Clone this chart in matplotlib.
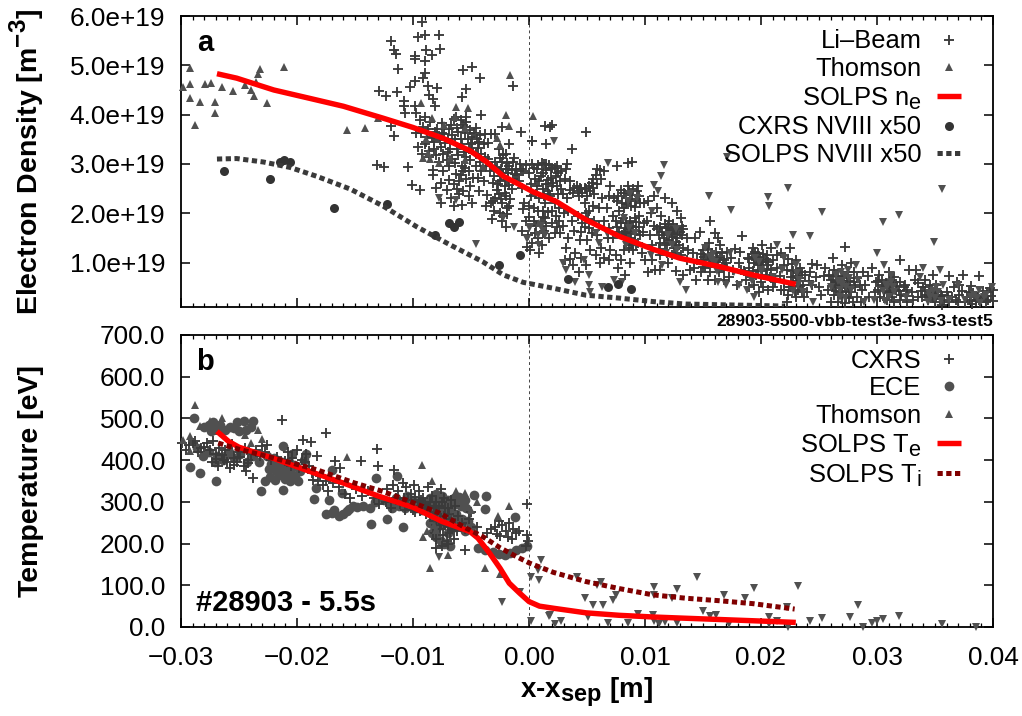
# -*- coding: utf-8 -*-
import numpy as np
import matplotlib
matplotlib.use('Agg')
import matplotlib.pyplot as plt
import matplotlib._mathtext as mt

plt.rcParams['font.family'] = ['Liberation Sans', 'DejaVu Sans']
plt.rcParams['mathtext.fontset'] = 'custom'
plt.rcParams['mathtext.rm'] = 'Liberation Sans'
plt.rcParams['mathtext.bf'] = 'Liberation Sans:bold'
plt.rcParams['axes.unicode_minus'] = False
# gnuplot subscripts are bigger than the matplotlib ones
mt.SHRINK_FACTOR = 0.85

# all x values in mm from the separatrix, density in 1e19 m^-3, T in eV

# panel a : Li-beam
li_beam = [
    (-9.2,5.88),(-9,5.62),(-9.6,5.57),(-7.8,5.62),(-11.9,5.49),(-11.6,5.32),(-11.5,5.22),(-8.9,5.32),(-7.7,5.33),
    (-9.8,5.18),(-9.8,5.13),(-9,5.08),(-8.4,5.2),(-11.3,4.92),(-9,4.84),(-5.7,4.9),(-4.9,4.96),(-4.2,4.74),
    (-9.1,4.74),(-9.8,4.68),(-10.3,4.56),(-8.7,4.59),(-7.9,4.55),(-5.4,4.51),(-5.8,4.35),(-12.9,4.47),(-12.3,4.38),
    (-11.4,4.45),(-8.6,4.4),(-8.3,4.32),(-10.8,4.28),(-10.8,4.17),(-9.8,4.17),(-8.1,4.17),(-10.7,4.03),(-9.7,4.03),
    (-9,3.96),(-4.1,4),(-7.5,3.83),(-9.7,3.63),(-11.6,3.57),(-11.9,3.76),(-0.7,3.64),(0.3,3.47),(-1.4,4.59),(1.4,3.77),
    (-13.1,2.97),(-12.5,2.94),(-10.4,2.93),(-10.1,2.58),(-9.4,2.48),(-8.3,2.88),(-8.3,2.77),(-6.7,2.31),(-5.8,2.17),
    (-3.2,1.88),(-3.1,2.24),(-9.4,3.9),(-9.1,3.75),(-8.8,3.55),(-8.5,3.85),(-8.2,3.45),(-7.9,3.7),(-7.6,3.35),
    (-7.3,3.6),(-7,3.25),(-6.7,3.8),(-6.4,3.5),(-6.1,3.65),(-5.8,3.4),(-5.5,3.75),(-5.2,3.3),(-4.9,3.55),(-4.6,3.2),
    (-4.3,3.45),(-9.6,3.35),(-9.2,3.2),(-8.9,3.45),(-8.6,3.15),(-8.2,3.3),(-7.8,3.05),(-7.4,3.2),(-7,3.5),(-6.6,3.1),
    (-6.2,3.3),(-5.8,2.95),(-5.4,3.15),(-5,3.4),(-4.6,2.95),(-4.2,3.05),(-6.3,2.8),(-6,2.65),(-5.7,2.85),(-5.4,2.7),
    (-5.1,2.55),(-5.7,2.45),(-5.2,2.35),(-6.2,2.5),(-5.9,3.9),(-5.4,3.95),(-6.3,3.95),(-3.8,3.15),(-3.3,3.6),(-2.9,3.6),
    (-2.6,3.3),(-2.3,3.75),(-2,3.2),(-1.7,3.4),(-3.5,3.1),(-3.2,2.95),(-2.9,3.05),(-2.6,2.85),(-2.3,3.05),(-2,2.9),
    (-1.7,2.95),(-1.4,3.05),(-1.1,2.9),(-0.8,3.0),(-0.5,2.85),(-3,2.75),(-2.7,2.6),(-2.4,2.75),(-2.1,2.55),(-1.8,2.7),
    (-1.5,2.5),(-1.2,2.8),(-0.9,2.65),(-2.9,2.3),(-2.6,2.4),(-2.3,2.2),(-2,2.35),(-1.7,2.15),(-2.5,2.0),(-2.2,1.95),
    (-1.9,2.1),(-2.3,1.85),(-0.4,2.2),(0,2.15),(0.4,2.1),(0.7,2.9),(1,2.75),(1.3,3.0),(1.5,2.6),(1.7,2.4),(1.9,2.9),
    (0.5,1.6),(0.8,1.5),(1.1,1.35),(1.3,1.65),(1.5,1.75),(-0.1,1.55),(0.3,1.4),(0.9,1.2),(1.4,1.9),(1.7,1.5),(1.2,2.05),
    (1,1.8),(0.6,1.75),(0.2,2.6),(0.6,2.4),(0.9,2.3),(1.4,2.2),(1.2,2.5),
    (1.5,3.4),(1.8,3.75),(2,3.8),(0.3,3.47),(4.9,3.65),(3.7,3.3),(3.3,3),(1.5,3.0),(2,2.92),(2.4,2.95),(2.8,2.85),
    (3.2,2.9),(2.3,2.75),(2.7,2.65),(3.1,2.7),(3.5,2.65),(2,2.55),(1.6,2.45),(2.5,2.4),(2.9,2.4),(3.3,2.3),(2.2,2.2),
    (2.6,2.1),(3,2.0),(2.3,1.95),(2,1.8),(2.6,1.85),(2.2,1.6),(2.9,1.75),(2.7,1.6),(1.2,1.6),
    (4.1,2.55),(4.5,2.5),(4.9,2.5),(5.3,2.45),(4.3,2.35),(5,2.35),(5.6,2.4),(5.9,2.9),(6.2,2.7),(6.5,2.85),(5.5,2.7),
    (7.6,2.95),(8.5,3.02),(8.9,3.05),(7,2.55),(6.9,2.35),(6.3,2.3),(6,2.1),(5.5,2.15),(4.9,2.0),(5.6,1.85),(5.2,1.7),
    (4.6,1.8),(5,1.45),(4.4,1.45),(5.9,1.55),(6.2,1.3),(6.8,1.5),(7.2,1.5),(6.5,1.1),(6.1,1.0),(5.3,1.25),(4.5,1.1),
    (4.9,0.95),(4,1.2),(7.5,1.15),(7.9,1.05),(7.7,0.9),(8.2,1.25),(8.7,1.0),(8.3,0.75),(8.9,1.35),
    (7.6,2.25),(8,2.2),(8.4,2.3),(8.8,2.15),(9.2,2.25),(9.5,2.35),(9.9,2.2),(10.3,2.25),(7.8,2.05),(8.2,2.1),
    (8.6,2.45),(9,2.5),(9.4,2.55),(7.5,1.85),(7.9,1.8),(8.3,1.7),(8.7,1.85),(9.1,1.9),(9.5,1.95),(9.9,1.8),(10.2,1.85),
    (8,1.55),(8.4,1.6),(8.8,1.5),(9.2,1.65),(9.6,1.55),(8.6,1.3),(9,1.25),(9.4,1.4),(9.7,1.2),(10,1.05),(10.6,1.05),
    (10.9,0.85),(11.3,0.85),(10.3,0.8),(12.7,0.82),(13.3,0.75),(12,1.0),(11.3,1.15),
    (11.7,2.3),(12.3,2.2),(12.8,2.05),(13.1,1.9),(13.2,1.75),(11.8,1.7),(12.1,1.85),(11.2,1.55),(11.6,1.5),(12,1.55),
    (12.4,1.6),(12.8,1.5),(13.2,1.55),(13.6,1.5),(11.3,1.4),(11.7,1.35),(12.1,1.45),(12.5,1.3),(12.9,1.35),(13.3,1.3),
    (11.9,1.2),(12.3,1.15),(12.7,1.2),(13.1,1.15),(13.7,1.25),(14.1,1.2),(15.6,1.85),(14.7,1.63),(16,1.6),(16.3,1.5),
    (15.5,1.4),(15,1.25),(16.5,1.35),(15,1.05),(15.4,1.15),(15.8,1.0),(16.2,1.1),(16.6,1.2),(17,1.0),(17.4,1.1),(14.8,0.8),
    (15.2,0.9),(15.6,0.8),(16,0.65),(16.4,0.8),(16.8,0.85),(17.2,0.7),(17.6,0.85),(15.4,0.65),(16.8,0.65),
    (18.4,1.54),(18.9,1.1),(19.3,1.3),(19.7,1.2),(20.1,1.35),(20.5,1.15),(20.9,1.3),(19,0.9),(19.4,1.0),(19.8,0.95),
    (20.2,1.05),(20.6,0.95),(21,1.05),(21.4,0.9),(18.7,0.65),(19.2,0.7),(19.6,0.75),(20,0.6),(20.4,0.75),(20.8,0.7),
    (21.2,0.6),(19,0.5),(19.4,0.55),(19.8,0.4),(20.2,0.5),(20.6,0.45),(21,0.5),(21.7,1.2),(22,0.95),(22.5,1.3),(23,1.05),
    (22.2,0.85),(22.6,0.7),(23,0.85),(23.4,0.9),(23.8,0.75),(24.2,0.8),(22,0.6),(22.4,0.5),(22.8,0.6),(23.2,0.45),
    (23.6,0.55),(24,0.4),(24.4,0.55),(24.7,0.7),(22.3,0.35),(23,0.3),(22.2,0.2),(23.7,0.3),
    (26.2,1.1),(27.2,1.32),(27.8,1.0),(26.3,0.85),(27,0.95),(27.5,0.8),(28,0.8),(26,0.65),(26.5,0.6),(27,0.7),(27.5,0.55),
    (28,0.6),(28.5,0.55),(25.8,0.45),(26.3,0.35),(26.8,0.4),(27.3,0.3),(27.8,0.4),(28.3,0.3),(28.7,0.45),(26,0.2),(26.6,0.2),
    (27.2,0.18),(27.9,0.2),(28.6,0.2),(29.3,0.3),
    (30.2,0.75),(31,0.8),(32,1.05),(32.8,0.85),(30.4,0.65),(31,0.6),(31.5,0.7),(32,0.6),(32.4,0.55),(30.1,0.45),(30.6,0.5),
    (31.1,0.4),(31.6,0.45),(32.1,0.35),(32.6,0.45),(33,0.4),(30.3,0.3),(30.9,0.25),(31.5,0.2),(32,0.25),(32.6,0.2),(33.1,0.25),
    (34.1,0.65),(34.8,0.75),(35.1,0.55),(36.2,0.72),(34,0.5),(34.5,0.45),(35,0.4),(35.5,0.35),(36,0.4),(36.5,0.3),(33.9,0.3),
    (34.4,0.25),(35,0.2),(35.6,0.15),(36.2,0.2),(36.8,0.25),(37.1,0.35),(38.1,0.52),(38.8,0.72),(39.1,0.42),(38.4,0.3),
    (37.6,0.2),(38.2,0.17),(38.8,0.25),(39.4,0.2),(39.8,0.32),(40,0.45),(37.9,0.4),(39.5,0.4),(40,0.22),
]

# second pass over the dense parts of the Li-beam cloud
li_beam_dense = [
    (-9.3,3.62),(-9,3.4),(-8.7,3.7),(-8.6,3.27),(-8.4,3.52),(-8.1,3.65),(-8,3.18),(-7.7,3.48),(-7.5,3.62),(-7.2,3.42),
    (-7.1,3.08),(-6.9,3.7),(-6.8,3.3),(-6.6,3.58),(-6.5,3.92),(-6.2,3.72),(-6.1,3.18),(-5.9,3.5),(-5.9,2.78),(-5.7,3.78),
    (-5.6,3.25),(-5.5,3.62),(-5.4,3.85),(-5.3,3.5),(-5.1,3.68),(-5.1,3.08),(-4.9,3.42),(-4.8,2.72),(-4.7,3.62),(-4.5,3.5),
    (-4.4,3.32),(-4.2,3.58),(-4.1,3.2),(-3.9,3.4),(-6.5,2.6),(-6,2.4),(-5.5,2.92),(-5.2,2.85),(-6.4,3.02),(-6.9,2.95),
    (-3.4,2.85),(-3.1,2.62),(-2.8,2.92),(-2.8,2.48),(-2.5,3.12),(-2.5,2.65),(-2.4,2.9),(-2.2,3.18),(-2.2,2.82),(-2.1,2.42),
    (-2,2.68),(-1.9,3.02),(-1.8,2.82),(-1.7,2.58),(-1.6,2.28),(-1.5,2.88),(-1.4,2.7),(-1.3,3.12),(-1,2.78),(-0.7,2.9),
    (-2.4,2.28),(-1.9,1.98),(-2,1.72),(-3,2.05),(-0.6,2.52),(-0.3,2.98),(0,2.82),(0.2,2.35),(0.3,3),(0.5,2.7),(0.4,2.92),
    (0.7,2.55),(0.8,2.98),(0.9,2.65),(1.1,3.02),(1.2,2.82),(1.3,2.35),(1.5,2.88),(1.6,2.68),(1.7,2.98),(1.8,2.35),
    (1.9,2.72),(2.1,2.62),(2.2,2.92),(2.4,2.55),(2.5,2.82),(2.8,2.5),(0.8,2.05),(1.2,1.92),(1.6,2.02),(2,2.05),(2.4,1.72),
    (3.5,2.48),(3.8,2.42),(3.9,2.52),(4.2,2.45),(4.4,2.52),(4.6,2.42),(4.8,2.52),(5.2,2.55),(5.4,2.62),(5.5,2.52),(5.8,2.78),
    (5.9,2.6),(6.1,2.88),(4.8,2.2),(5.2,2.05),(4.2,1.95),(4.5,1.62),(5.1,1.88),(4.8,1.72),(3.9,1.65),(5.4,1.6),(6,1.75),
    (7.3,2.3),(7.7,2.35),(7.9,2.48),(8.2,2.42),(8.4,2.18),(8.5,2.55),(8.7,2.28),(8.9,2.38),(9.1,2.12),(9.3,2.45),(9.6,2.2),
    (7.6,1.72),(7.8,1.62),(8.1,1.9),(8.2,1.58),(8.4,1.8),(8.5,1.68),(8.7,1.62),(8.8,1.75),(9,1.72),(9.1,1.58),(9.2,1.82),
    (9.5,1.72),(9.8,1.62),(8.5,1.45),(8.8,1.38),(9.2,1.35),
    (11,1.68),(11.3,1.72),(11.5,1.62),(11.7,1.78),(11.9,1.6),(12,1.72),(12.1,1.62),(12.2,1.7),(12.3,1.52),(12.4,1.78),(12.5,1.66),
    (12.6,1.58),(12.8,1.7),(13,1.62),(13.3,1.68),(11.2,1.28),(11.9,1.4),(12.3,1.38),(12.7,1.42),
    (14.8,1.18),(15.1,1.12),(15.4,1.28),(15.6,1.08),(15.8,1.2),(15.9,1.12),(16,1.02),(16.1,1.22),(16.3,1.05),(16.5,1.1),(16.8,1.05),
    (17.1,1.22),(15,0.92),(15.5,0.98),(16.2,0.92),(16.7,0.95),
    (19,1.08),(19.2,1.18),(19.4,1.12),(19.5,1.22),(19.6,1.05),(19.7,0.98),(19.9,1.12),(20,1.02),(20.2,1.18),(20.4,1.08),(20.6,1.02),
    (19.3,0.82),(19.7,0.85),(20.1,0.82),(20.5,0.88),(18.5,0.82),(20.9,0.85),
    (22.3,1.08),(22.7,0.98),(22.8,0.82),(23,0.72),(23.1,0.62),(23.2,0.78),(23.3,0.68),(23.4,0.52),(23.5,0.8),(22.6,0.5),(22.9,0.42),
    (23.5,0.4),(24.1,0.62),(24.4,0.98),(22,0.45),
    (26.2,0.72),(26.4,0.55),(26.6,0.72),(26.7,0.5),(26.8,0.65),(26.9,0.58),(27,0.48),(27.1,0.62),(27.2,0.55),(27.3,0.42),(27.4,0.68),
    (27.6,0.48),(27.7,0.62),(26.5,0.42),(26.2,0.55),(28.1,0.5),(28.3,0.68),(25.9,0.75),(27,0.3),(27.6,0.28),
    (30.1,0.62),(30.4,0.55),(30.6,0.42),(30.8,0.58),(30.9,0.48),(31,0.38),(31.2,0.52),(31.3,0.3),(31.4,0.58),(31.7,0.52),(31.9,0.42),
    (32.3,0.5),(32.5,0.32),(30.6,0.28),(31.3,0.65),
    (34.1,0.42),(34.3,0.35),(34.5,0.3),(34.7,0.42),(34.8,0.28),(34.9,0.36),(35.1,0.3),(35.2,0.42),(35.4,0.26),(35.6,0.32),(35.8,0.25),
    (36.1,0.32),(33.8,0.42),(33.5,0.58),(34.6,0.55),
    (38,0.25),(38.3,0.38),(38.5,0.22),(38.7,0.3),(38.9,0.2),(39.1,0.28),(39.3,0.32),(39.6,0.25),(37.8,0.3),(37.3,0.42),(39.7,0.48),
]

# third pass, the gaps between the clumps
li_beam_fill = [
    (-4.6,3.72),(-4.4,2.72),(-4.1,2.85),(-3.9,2.65),(-3.8,3.6),(-3.7,2.95),(-3.6,2.38),(-3.5,3.42),(-3.3,2.2),(-3.7,2.15),(-4.3,2.45),
    (-7.6,2.62),(-7.1,2.48),(-6.9,2.68),(-7.4,2.85),(-8,2.52),(-7.6,2.2),(-6.5,2.15),(-4.9,2.2),
    (-0.3,1.85),(-0.5,2.08),(0,1.92),(0.4,1.85),(-0.6,1.65),(0.1,1.25),(-0.2,1.32),
    (3.4,2.05),(3.7,1.85),(3.4,1.5),(3.2,1.3),(3.5,1.08),(3.8,0.95),(4.3,0.8),(3.1,1.05),(5.8,1.15),(6.5,1.85),(6.9,1.7),(7,1.25),
    (7.2,1.95),(6.7,2.1),(6.9,1.05),(10.4,1.55),(10.6,1.35),(10.5,2.0),(10.8,2.35),(11,2.1),(10.8,1.75),(11.4,1.95),(13.6,1.05),(13.9,0.85),
    (14.3,1.5),(14.5,1.05),(14.2,0.9),(14.4,0.65),(17.8,1.28),(18.1,1.0),(18.3,0.85),(18.2,1.22),(17.9,0.55),(21.6,0.72),(21.7,0.45),(21.4,1.15),
    (24.8,0.95),(25,0.5),(25.2,0.35),(25.4,0.72),(25.5,0.9),(28.8,0.8),(29,0.55),(29.2,0.72),(29.6,0.9),(29.8,0.4),(29.9,0.6),
    (33.3,0.65),(33.5,0.3),(33.4,0.85),(36.9,0.6),(37.1,0.55),(37.4,0.75),(37,0.2),(36.6,0.5),
]

# panel a : Thomson inside (up triangles)
ne_ts_up = [
    (-29.8,4.56),(-29.2,4.95),(-29.2,4.62),(-29.2,4.34),(-28.8,3.8),(-28.4,4.25),(-27.9,4.62),(-27.4,4.65),(-27.1,4.26),
    (-27.1,4.04),(-26.5,4.57),(-25.5,4.47),(-24.5,4.6),(-24,4.5),(-23.7,4.37),(-23.5,4.67),(-23.4,4.83),(-23.2,4.93),
    (-22.6,4.24),(-21.1,4.96),(-15.7,3.69),(-14.1,3.73),(-13,3.93),(-9.1,3.12),(-8.7,3.22),(-9.3,4.23),(-8.4,3.93),(-7.3,3.8),
    (-7.8,3.02),(-6.8,3.12),(-6.3,4.15),(-6.4,3.96),(-5.3,4.13),(-5.5,3.73),(-5.5,3.08),(-4,2.95),(-2.8,3.52),(-2.5,3.38),
    (-2,4.0),(-1.7,3.77),(-1.6,4.81),(0.35,3.98),(0.9,1.8),(-8.9,3.5),(-8.5,3.1),
]

# panel a : Thomson outside (down triangles)
ne_ts_down = [
    (-7.8,2.31),(-6.3,2.27),(-2.2,1.9),(-1.3,1.73),(0.1,1.73),(-4.6,1.37),(2.15,3.46),(6.8,3.02),(11.6,2.97),(11.4,2.75),
    (10.8,2.58),(15.5,2.36),(17.4,2.07),(20.6,2.34),(20.7,2.14),(22.3,2.51),(25.3,2.02),(30.5,1.83),(31.9,1.97),(35.6,2.5),
    (34.9,1.41),(22.8,1.56),(24.2,1.54),(21.4,1.36),(17.1,3.14),(0,1.72),(-0.2,1.47),(1,1.75),(1.2,1.65),(2.9,1.0),(3.2,0.85),
    (4,0.6),(5.2,0.55),(5.3,0.4),(6.3,0.5),(7.3,0.65),(8,0.6),(4.7,1.05),(5.2,0.75),(6,1.4),(5.8,1.6),(6.7,1.6),(8.4,1.35),
    (9.1,1.6),(10.5,1.15),(11.5,0.95),(12.8,1.25),(13,0.6),(13.5,0.45),(9.3,2.3),(10.6,2.05),(11.1,2.45),(8.7,2.4),
    (15.2,1.3),(15.8,1.05),(16.5,0.9),(17.3,1.2),(17.7,0.8),(18.1,0.55),(17,0.55),(16.3,0.6),(18.8,0.45),(19.4,0.3),
    (20,0.85),(21,0.7),(22,1.1),(21.8,0.85),(23.3,0.65),(23.6,0.4),(24.3,0.55),(24.5,0.2),(26,0.5),(26.5,0.75),(27,0.55),
    (27.5,0.85),(27.8,0.45),(28.2,0.95),(28.4,0.65),(26.8,0.3),(30,1.2),(30.6,0.95),(30.8,0.55),(31.2,0.75),(31.5,0.4),(29.7,0.25),
    (34,0.9),(35.4,0.85),(35.3,0.4),(35.7,0.55),(34.6,0.3),(36.2,0.25),(37,0.55),(38.1,0.3),(38.8,0.45),(39.4,0.35),(37.6,0.25),
    (39.9,0.5),(33.7,0.7),(28.9,0.2),(32.5,0.3),
    (15.6,1.12),(15.9,1.18),(16,1.02),(16.2,0.82),(19.5,1.1),(19.8,1.02),(20,0.82),(19.2,0.62),(23,0.95),(23.1,0.78),(23.2,0.55),(22.8,0.42),
    (26.6,0.62),(26.9,0.8),(27,0.62),(27.2,0.72),(27.3,0.5),(27.6,0.68),(26.8,0.45),(27.2,0.28),(30.5,0.42),(30.9,0.5),(31,0.3),(31.2,0.6),
    (30.7,0.22),(31.4,0.5),(34.5,0.38),(34.8,0.42),(35,0.28),(35.1,0.5),(34.4,0.2),(35.5,0.22),(38.4,0.35),(38.6,0.28),(38.9,0.18),(39.2,0.3),
    (8.2,1.9),(8.5,2.25),(8.6,1.7),(9.1,1.4),(12,1.55),(12.3,1.35),(12.7,1.68),(11.8,1.2),(1.4,1.55),(0.8,1.55),(0.9,1.35),
]

# panel a : CXRS NVIII x50
cxrs_n = [
    (-26.3,2.85),(-22.3,2.7),(-21.5,3.03),(-21.1,3.08),(-20.6,3.04),(-16.8,2.1),(-12.2,2.19),(-8.1,1.56),(-6.9,1.8),
    (-6.5,1.73),(-6,1.83),(-2.6,0.95),(-0.8,1.16),(3.4,0.66),(6.8,0.5),(7.7,0.56),(8.8,0.46),
]

# panel a : SOLPS curves
solps_ne = [
    (-26.9,4.83),(-25.2,4.74),(-22,4.5),(-18.9,4.33),(-16,4.17),(-12.6,3.93),(-10,3.74),(-7.4,3.52),(-5.1,3.27),(-3.7,3.05),
    (-2.2,2.75),(-0.8,2.58),(0.4,2.43),(2.35,2.24),(4.9,1.87),(7.8,1.53),(10.7,1.27),(13,1.09),(16.4,0.92),(19.3,0.75),(23,0.56),
]
solps_n8 = [
    (-26.9,3.1),(-25.2,3.11),(-22.9,3.04),(-20.6,2.93),(-18.3,2.75),(-15.4,2.49),(-12.6,2.15),(-9.7,1.73),(-6.8,1.36),(-4,1.02),
    (-2.2,0.75),(-0.5,0.6),(2.1,0.48),(4.9,0.34),(7.8,0.28),(10.7,0.21),(13.5,0.16),(17.8,0.14),(22,0.12),
]

# panel b : CXRS
cxrs_t = [
    (-21.3,497),(-17.5,465),(-13.1,426),(-19.5,449),(-18.8,443),(-22.6,437),(-18.3,410),(-16.7,398),(-14.5,397),(-13,385),
    (-11.6,377),(-23.8,358),(-16.3,381),(-0.2,295),(-0.2,221),(-5.5,185),(-0.1,205),(-0.3,195),
    (-29.9,442),(-29.3,436),(-28.8,445),(-28.3,430),(-27.8,440),(-27.2,445),(-26.7,430),(-26.2,425),(-25.6,438),(-25.1,420),
    (-24.5,430),(-24,415),(-23.5,425),(-23,435),(-27.3,395),(-26.8,385),(-26.3,400),(-25.8,380),(-25.2,395),(-24.6,385),
    (-24.4,375),(-27,415),(-25.4,405),(-24.2,400),(-20.8,420),(-20.4,405),(-20,425),(-19.6,400),(-19.2,415),(-19,385),(-18.7,370),
    (-18.2,350),(-17.8,340),(-17.3,325),(-16.9,345),(-16.4,335),(-15.9,320),(-15.4,310),(-14.9,330),(-14.4,315),(-13.9,325),
    (-13.4,310),(-12.9,295),(-12.3,300),(-11.9,285),(-11.5,310),(-11.1,295),(-10.7,280),(-10.4,305),(-10.1,290),(-9.8,275),
    (-9.5,300),(-9.2,285),(-8.9,270),(-8.6,290),(-12.2,330),(-11.7,340),(-11.3,325),(-10.9,345),(-10.6,335),(-10.2,320),
    (-9.9,340),(-9.5,325),(-9.1,310),(-8.7,335),(-8.4,315),(-8,300),(-7.6,330),(-7.3,310),(-7,285),(-6.7,305),(-6.4,290),
    (-8.5,265),(-8.2,255),(-7.9,270),(-7.6,250),(-7.3,265),(-7,240),(-6.7,260),(-6.4,245),(-6.1,265),(-5.8,250),(-5.5,235),
    (-8.3,225),(-8,210),(-7.7,235),(-7.4,220),(-7.1,205),(-6.8,225),(-6.5,210),(-6.2,230),(-8,190),(-7.5,195),(-7,200),
    (-3.3,235),(-2.9,240),(-2.6,255),(-2.3,245),(-2,230),(-1.7,250),(-1.4,235),(-1.1,225),(-2.8,222),(-2.5,218),(-1.8,215),
    (-1.5,212),(-0.9,230),(-3.6,225),(-4.5,240),(-5,275),(-5.2,260),
    (-29.6,425),(-29,440),(-28.5,420),(-28,432),(-27.5,425),(-27,402),(-26.5,412),(-26,395),(-25.4,388),(-24.9,408),(-24.2,392),
    (-23.2,410),(-22.8,420),(-22.2,400),(-21.7,408),(-21,398),(-20.5,385),(-19.8,380),(-19.3,395),(-18.6,352),(-18,362),(-17.5,350),
    (-10.8,310),(-10.5,295),(-10.2,305),(-10,280),(-9.8,312),(-9.6,290),(-9.4,278),(-9.3,305),(-9,295),(-8.8,280),(-8.5,300),
    (-8.2,285),(-8,275),(-7.8,290),(-7.5,300),(-7.2,285),(-8,245),(-7.7,255),(-7.2,245),(-6.9,270),(-6.6,235),
]

# panel b : ECE
ece_t = [
    (-28.9,500),(-29.2,383),(-28.4,369),(-27,351),(-28.1,409),(-27.6,484),(-27.2,492),(-26.9,480),(-26.2,472),(-25.8,480),
    (-25.2,492),(-24.6,495),(-23.8,495),(-24,480),(-26.2,410),(-23.1,325),(-21.2,329),(-21.2,433),(-22.8,349),(-19.9,349),
    (-18.5,307),(-18.4,333),(-17.5,271),(-17,273),(-16.4,265),(-15.7,277),(-15.2,289),(-14.3,291),(-13.7,285),(-13.6,247),
    (-12.2,259),(-10.9,240),(-13.2,357),(-11.4,361),(-17.2,305),(-17,377),(-16.1,322),(-16.8,280),(-16,270),(-15.5,282),
    (-14.8,288),(-13.3,300),(-28,480),(-27.4,470),(-26.6,485),(-25.4,478),(-25,470),(-24.4,472),(-28.6,430),(-27.6,420),
    (-26.9,410),(-26.4,400),(-25.9,420),(-25.4,405),(-24.9,415),(-24.3,395),(-23.8,410),(-27.1,395),(-23.3,395),
    (-22.6,410),(-22.2,390),(-21.8,375),(-21.3,395),(-20.9,380),(-20.5,370),(-20.1,385),(-19.7,375),(-19.4,400),(-22.3,360),
    (-21.9,352),(-21.4,365),(-21,355),(-20.6,350),(-20.2,362),(-19.2,415),(-22,405),(-20.4,415),(-12.5,305),(-12,295),
    (-11.5,310),(-11,300),(-10.5,315),(-10,305),(-9.5,295),(-9,300),(-8.5,310),(-8,320),(-7.5,315),(-7,305),(-6.5,310),
    (-6,312),(-5.5,305),(-4.7,317),(-3.7,315),(-3.8,283),(-1.2,263),(-8.8,285),(-8.3,290),(-7.8,280),
    (-7.3,275),(-6.8,285),(-6.3,270),(-5.8,260),(-5.3,255),(-5,240),(-8.5,250),(-8,235),(-7.5,245),(-7,225),(-6.5,240),
    (-6,245),(-5.5,230),(-7.3,200),(-6.8,195),(-4.4,190),(-3.8,185),(-3.1,180),(-2.6,175),(-2.1,172),(-1.6,178),(-1.1,185),
    (-0.6,190),(-0.2,195),
    (-22,385),(-21.5,378),(-21,372),(-20.7,395),(-20.3,388),(-21.6,395),(-22.4,378),(-11.8,285),(-11.2,290),(-10.7,285),
    (-10.2,290),(-9.7,285),(-9.2,280),(-8.7,275),(-8.2,265),(-7.7,262),(-7.2,255),(-6.7,255),(-6.2,255),(-7.9,300),(-7.4,295),
    (-6.9,298),(-6.4,295),(-5.9,290),(-5.4,285),(-8.4,225),(-8,215),(-7.6,205),
]

# panel b : Thomson inside
te_ts_up = [
    (-28.8,532),(-29.8,449),(-29.2,457),(-29.2,421),(-28.4,482),(-26.5,500),(-24.5,460),(-23.4,472),(-15.7,408),(-9.2,389),
    (-8.4,349),(-6.3,327),(-9.1,215),(-7,173),(-8.5,142),(-3.8,142),(-2.5,127),(-1.7,289),(-2.7,265),(-5.5,321),(-8,233),(-8.2,245),
    (-27.5,495),(-27,470),(-24,440),(-23,450),(-8.8,230),(-5,280),(-4.5,300),
]

# panel b : Thomson outside
te_ts_down = [
    (-7.8,169),(-2.3,60),(0.2,121),(0.2,14),(1.06,161),(0.86,112),(0.8,136),(1.7,27),(-0.8,85),(4.1,120),(6.2,109),(5.9,101),
    (4.8,69),(5.5,52),(6.4,52),(7.2,64),(7.5,76),(1.8,28),(2.2,8),(2.8,14),(5.1,24),(6.8,10),(8.5,10),(9.4,31),(10.7,28),(10.8,14),
    (11.2,8),(11.7,11),(10.8,97),(10.8,76),(12.3,69),(12.8,91),(12.8,10),(14.5,120),(15,39),(15.6,26),(16.1,28),(16.8,77),(17.2,8),
    (18.6,69),(19.4,93),(20.7,24),(21.4,14),(20.7,8),(22.2,49),(22.3,1),(23.2,99),(24.2,14),(25.3,22),(27.7,24),(28.4,53),(28.8,1),
    (29.6,10),(30,14),(30.5,20),(31.9,26),(35.6,6),(38.5,1),
]

# panel b : SOLPS curves
solps_te = [
    (-26.9,469),(-25.9,445),(-25,431),(-22,404),(-19,374),(-16,345),(-13,314),(-10,287),(-7.5,253),(-5.1,229),(-4.4,213),(-3.4,177),
    (-2.5,141),(-1.7,105),(-0.8,81),(0,61),(0.9,50),(2.1,45),(4.9,34),(7.8,28),(10.7,24),(13.5,21),(16.4,18),(19.3,15),(23,11),
]
solps_ti = [
    (-26.8,441),(-25,426),(-22,405),(-18.3,377),(-15,345),(-12.6,325),(-10,298),(-7.7,273),(-5.5,238),(-4,217),(-2.5,190),(-1.1,169),
    (0.06,153),(2.1,131),(4.9,109),(7.8,92),(10.7,77),(13.5,69),(16.4,63),(19.3,56),(22.9,43),
]

xticks = [-0.03, -0.02, -0.01, 0.00, 0.01, 0.02, 0.03, 0.04]
xticklabels = ['\u22120.03', '\u22120.02', '\u22120.01', '0.00', '0.01', '0.02', '0.03', '0.04']
ne_ticks = [1e19, 2e19, 3e19, 4e19, 5e19, 6e19]
ne_ticklabels = ['1.0e+19', '2.0e+19', '3.0e+19', '4.0e+19', '5.0e+19', '6.0e+19']
t_ticks = [0, 100, 200, 300, 400, 500, 600, 700]
t_ticklabels = ['0.0', '100.0', '200.0', '300.0', '400.0', '500.0', '600.0', '700.0']

W, H = 1022, 716
DARK = '#3a3a3a'
MID = '#505050'
FS = 18.9
LEG = 18.4
LAB = 20.5
DOTS = (0, (1.05, 0.7))
PLUS = dict(ls='', marker='+', ms=6.5, mew=1.35, color=DARK, clip_on=False)
UP = dict(ls='', marker='^', ms=6, mew=0, color=MID, clip_on=False)
DOWN = dict(ls='', marker='v', ms=6, mew=0, color=MID, clip_on=False)
LEGEND = dict(loc='upper right', bbox_to_anchor=(0.9706, 0.98), frameon=False, markerfirst=False, fontsize=LEG,
              labelspacing=0.15, handlelength=0.94, handletextpad=0.63, borderaxespad=0.0, borderpad=0.3)


def xy(pts, yscale=1.0):
    a = np.array(pts, dtype=float)
    return a[:, 0] * 1e-3, a[:, 1] * yscale


def setup(ax):
    ax.set_xlim(-0.03, 0.04)
    ax.set_xticks(xticks)
    ax.set_xticks(np.arange(-30, 41) * 1e-3, minor=True)
    ax.tick_params(which='major', direction='in', length=6.5, width=1.1, top=True, right=True, labelsize=FS, pad=11.3)
    ax.tick_params(axis='x', which='major', pad=14)
    ax.tick_params(which='minor', direction='in', length=3, width=0.9, top=True)
    for s in ax.spines.values():
        s.set_linewidth(1.3)
    ax.axvline(0, color='#444444', lw=0.7, ls=(0, (3, 3)), zorder=1)


fig = plt.figure(figsize=(W / 100, H / 100), dpi=100)
ax1 = fig.add_axes([181 / W, 1 - 307 / H, 812 / W, 291 / H])
ax2 = fig.add_axes([181 / W, 1 - 627 / H, 812 / W, 292 / H])

setup(ax1)
setup(ax2)

# panel a
x, y = xy(li_beam + li_beam_dense + li_beam_fill, 1e19)
ax1.plot(x, y, zorder=3, label='Li\u2013Beam', **PLUS)
x, y = xy(ne_ts_up, 1e19)
ax1.plot(x, y, zorder=3, label='Thomson', **UP)
x, y = xy(ne_ts_down, 1e19)
ax1.plot(x, y, zorder=3, **DOWN)
x, y = xy(solps_ne, 1e19)
ax1.plot(x, y, color='red', lw=3.9, solid_capstyle='butt', zorder=5, label=r'SOLPS n$_{\mathrm{e}}$')
x, y = xy(cxrs_n, 1e19)
ax1.plot(x, y, ls='', marker='o', ms=6.5, mew=0, color='#333333', zorder=4, label='CXRS NVIII x50')
x, y = xy(solps_n8, 1e19)
ax1.plot(x, y, color=DARK, lw=3.6, ls=DOTS, dash_capstyle='butt', zorder=4, label='SOLPS NVIII x50')

ax1.set_ylim(1e18, 6e19)
ax1.set_yticks(ne_ticks)
ax1.set_yticklabels(ne_ticklabels)
ax1.set_xticklabels([])
ax1.set_ylabel(r'Electron Density [m$^{\mathbf{-3}}$]', fontsize=LAB, fontweight='bold')
ax1.yaxis.set_label_coords(-0.165, 0.5)
fig.text(205 / W, 1 - 43 / H, 'a', fontsize=21, fontweight='bold', ha='center', va='center')
fig.text(993 / W, 1 - 322 / H, '28903-5500-vbb-test3e-fws3-test5', fontsize=12.5, fontweight='bold', ha='right', va='center')

ax1.legend(**LEGEND)

# panel b
x, y = xy(cxrs_t)
ax2.plot(x, y, zorder=3, label='CXRS', **PLUS)
x, y = xy(ece_t)
ax2.plot(x, y, ls='', marker='o', ms=7, mew=0, color=MID, zorder=2.5, label='ECE')
x, y = xy(te_ts_up)
ax2.plot(x, y, zorder=3, label='Thomson', **UP)
x, y = xy(te_ts_down)
ax2.plot(x, y, zorder=3, **DOWN)
x, y = xy(solps_te)
ax2.plot(x, y, color='red', lw=3.9, solid_capstyle='butt', zorder=5, label=r'SOLPS T$_{\mathrm{e}}$')
x, y = xy(solps_ti)
ax2.plot(x, y, color='#800000', lw=3.6, ls=DOTS, dash_capstyle='butt', zorder=6, label=r'SOLPS T$_{\mathrm{i}}$')

ax2.set_ylim(0, 700)
ax2.set_yticks(t_ticks)
ax2.set_yticklabels(t_ticklabels)
ax2.set_xticklabels(xticklabels)
ax2.set_ylabel('Temperature [eV]', fontsize=LAB, fontweight='bold')
ax2.yaxis.set_label_coords(-0.169, 0.5)
ax2.set_xlabel(r'x-x$_{\mathbf{sep}}$ [m]', fontsize=20, fontweight='bold', va='center')
ax2.xaxis.set_label_coords(0.5, -0.223)
fig.text(205 / W, 1 - 362 / H, 'b', fontsize=21, fontweight='bold', ha='center', va='center')
fig.text(196 / W, 1 - 603 / H, '#28903 - 5.5s', fontsize=21, fontweight='bold', ha='left', va='center')

ax2.legend(**LEGEND)

fig.savefig('out.png', dpi=100)
